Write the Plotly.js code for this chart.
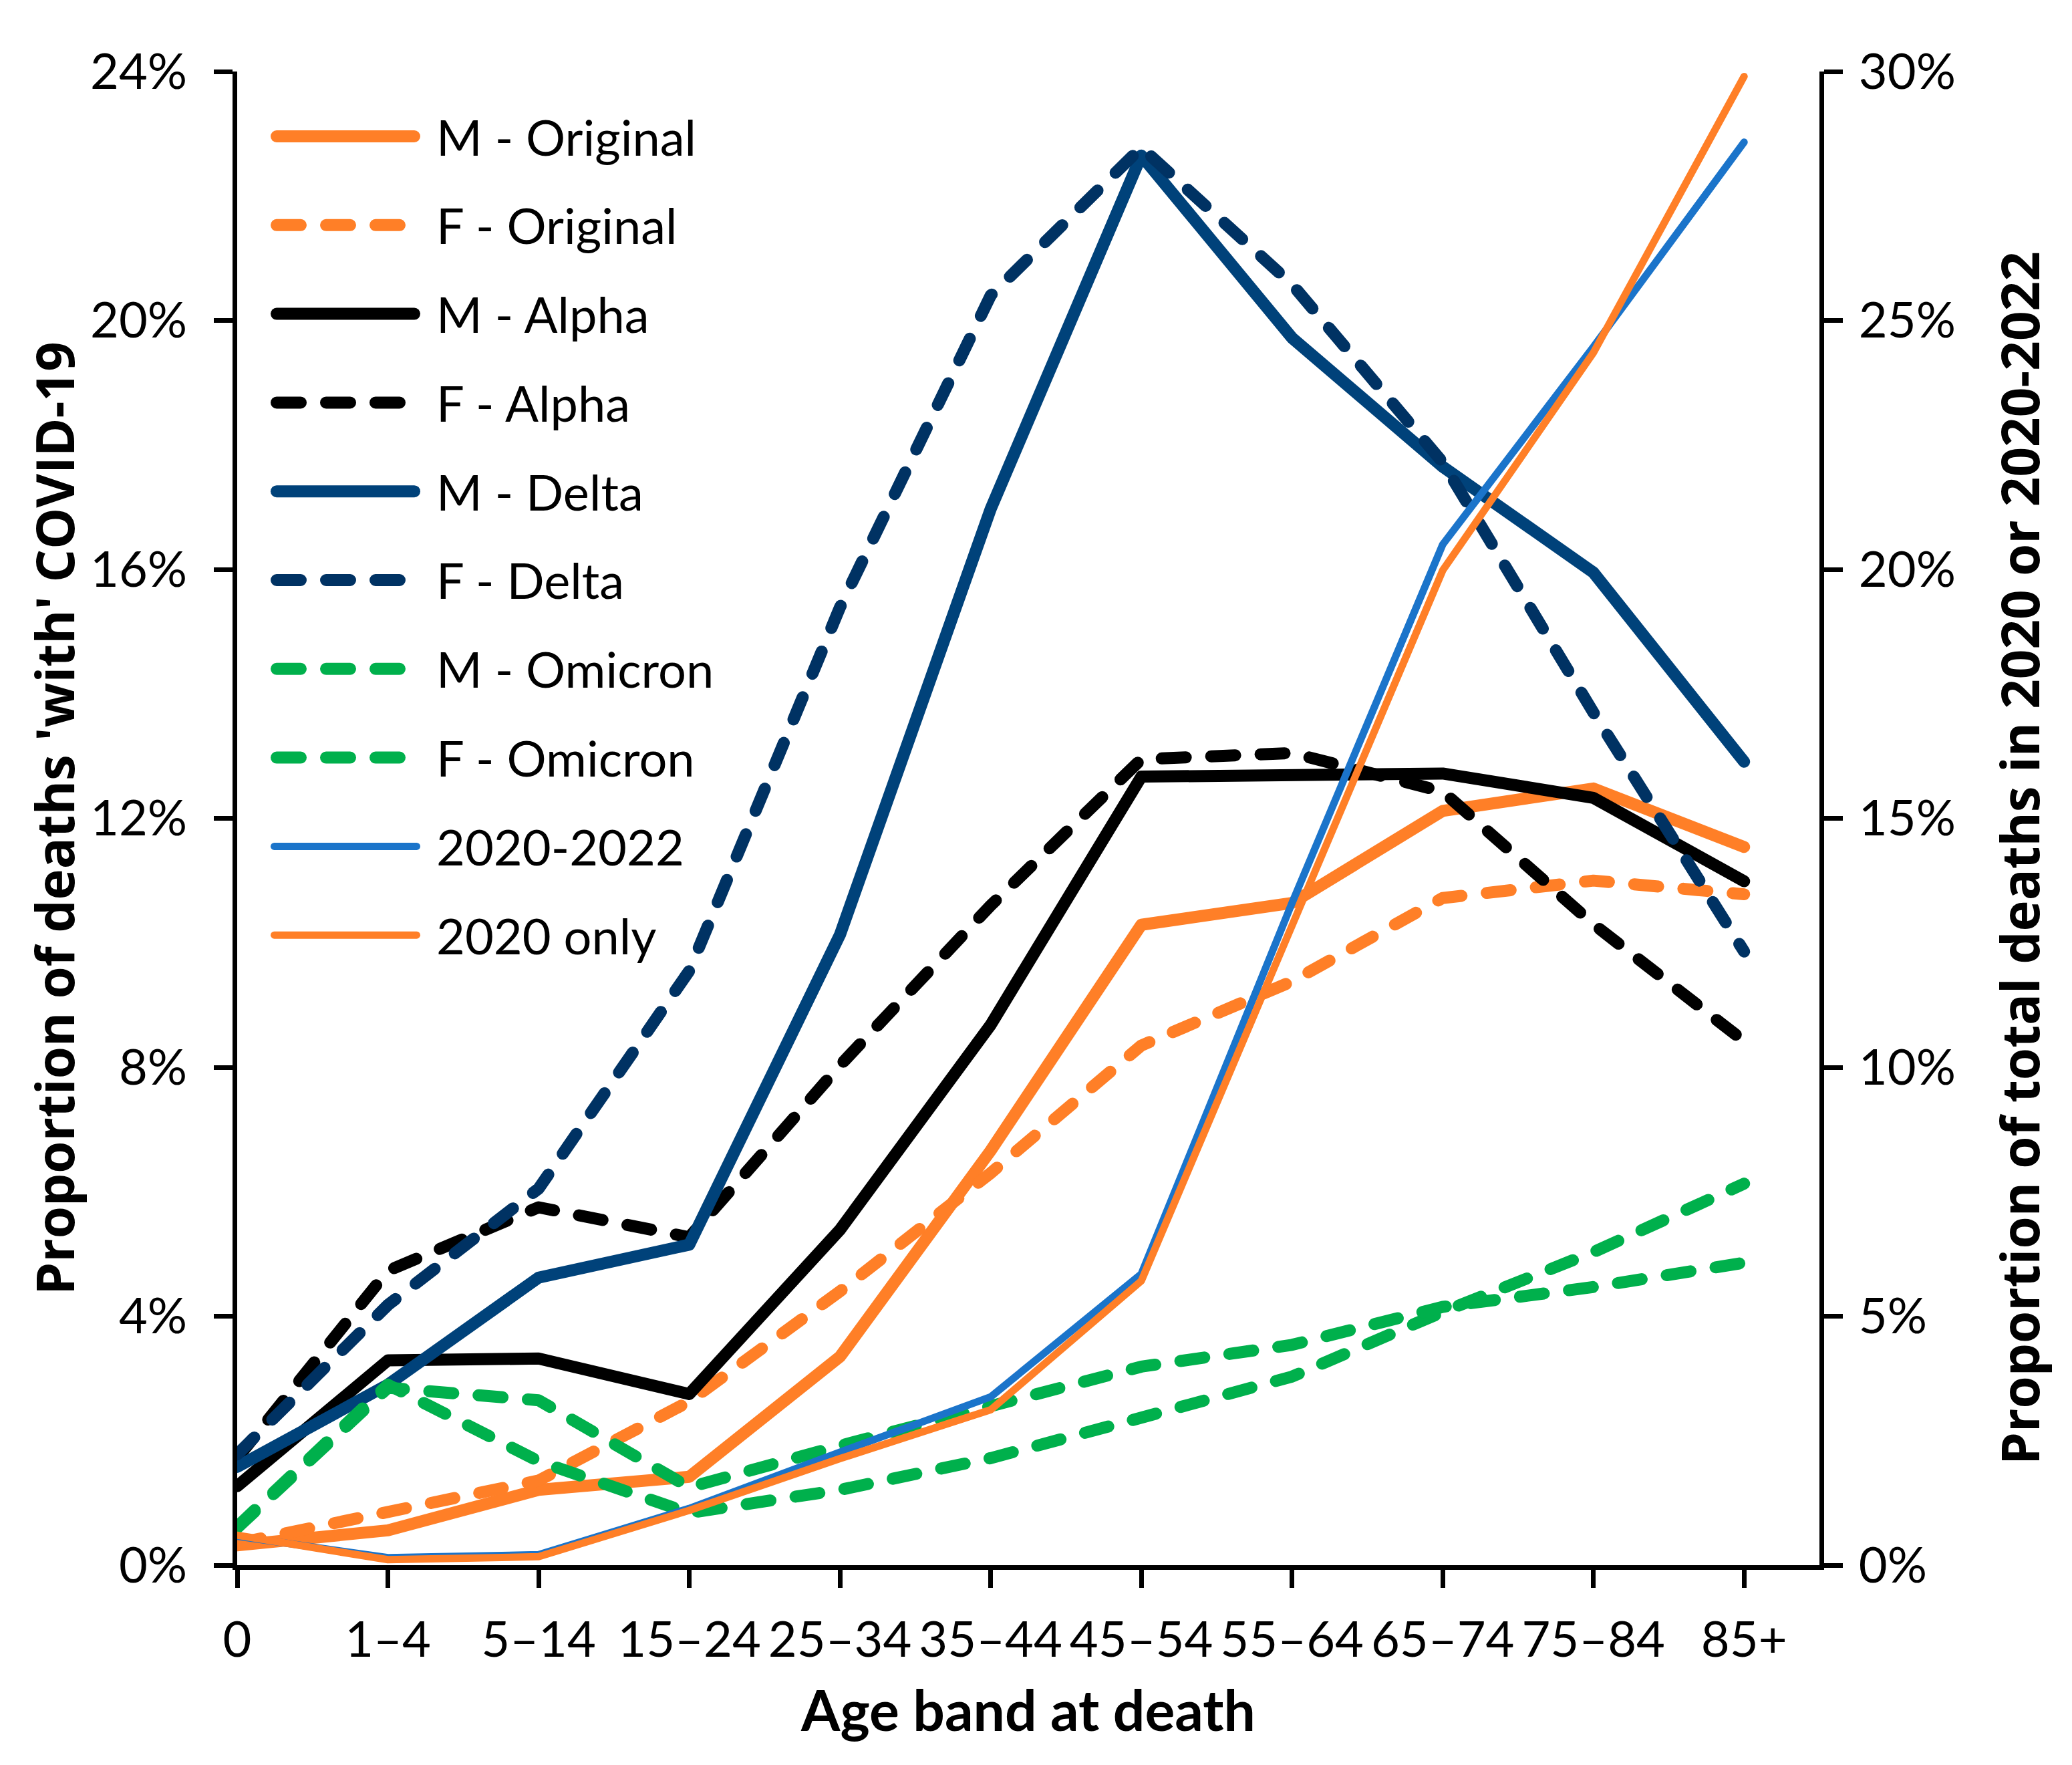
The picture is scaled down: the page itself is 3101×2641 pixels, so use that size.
<!DOCTYPE html>
<html>
<head>
<meta charset="utf-8">
<script src="https://cdn.plot.ly/plotly-3.0.1.min.js"></script>
<style>
html,body{margin:0;padding:0;background:#ffffff;}
.scatterlayer .js-line, .shapelayer path{stroke-linecap:round;stroke-linejoin:round;}
</style>
</head>
<body>
<div id="chart" style="width:3101px;height:2641px;"></div>
<script>
// ---- Data (percent values) ----
const categories = ['0', '1–4', '5–14', '15–24', '25–34', '35–44', '45–54', '55–64', '65–74', '75–84', '85+'];

// Left axis: proportion of deaths 'with' COVID-19 (%)
const mOriginal = [0.32, 0.56, 1.21, 1.42, 3.35, 6.66, 10.29, 10.64, 12.12, 12.48, 11.54];
const fOriginal = [0.35, 0.84, 1.36, 2.63, 4.40, 6.30, 8.35, 9.38, 10.72, 11.00, 10.78];
const mAlpha    = [1.27, 3.29, 3.32, 2.75, 5.39, 8.68, 12.67, 12.70, 12.72, 12.33, 10.99];
const fAlpha    = [1.72, 4.73, 5.75, 5.27, 8.03, 10.60, 12.95, 13.05, 12.43, 10.30, 8.42];
const mDelta    = [1.58, 2.90, 4.62, 5.15, 10.13, 16.97, 22.65, 19.72, 17.65, 15.95, 12.91];
const fDelta    = [1.78, 4.18, 6.05, 9.55, 15.39, 20.40, 22.78, 20.58, 17.72, 13.70, 9.86];
const mOmicron  = [0.62, 2.90, 1.67, 0.84, 1.21, 1.72, 2.37, 3.03, 4.07, 5.03, 6.13];
const fOmicron  = [0.60, 2.85, 2.65, 1.25, 1.92, 2.56, 3.19, 3.54, 4.15, 4.47, 4.86];

// Right axis: proportion of total deaths (%)
const total2020to2022 = [0.58, 0.15, 0.21, 1.14, 2.27, 3.38, 5.85, 13.30, 20.50, 24.47, 28.58];
const total2020only   = [0.60, 0.11, 0.17, 1.10, 2.14, 3.12, 5.71, 12.85, 19.98, 24.35, 29.90];

const leftTicks  = [0, 4, 8, 12, 16, 20, 24];
const rightTicks = [0, 5, 10, 15, 20, 25, 30];

const seriesNames = ['M - Original', 'F - Original', 'M - Alpha', 'F - Alpha', 'M - Delta',
                     'F - Delta', 'M - Omicron', 'F - Omicron', '2020-2022', '2020 only'];

// ---- Styles ----
const ORANGE = '#FF7F27', BLACK = '#000000', NAVY = '#00427A', NAVY_D = '#003263',
      GREEN = '#00B04C', BLUE = '#1B74CA';
const THICK = 18, THIN = 11, DASH = '36px,38px';
const styles = [
  {color: ORANGE, width: THICK, dash: 'solid', axis: 'y'},
  {color: ORANGE, width: THICK, dash: DASH, axis: 'y'},
  {color: BLACK,  width: THICK, dash: 'solid', axis: 'y'},
  {color: BLACK,  width: THICK, dash: DASH, axis: 'y'},
  {color: NAVY,   width: THICK, dash: 'solid', axis: 'y'},
  {color: NAVY_D, width: THICK, dash: DASH, axis: 'y'},
  {color: GREEN,  width: THICK, dash: DASH, axis: 'y'},
  {color: GREEN,  width: THICK, dash: DASH, axis: 'y'},
  {color: BLUE,   width: THIN,  dash: 'solid', axis: 'y2'},
  {color: ORANGE, width: THIN,  dash: 'solid', axis: 'y2'}
];
const seriesValues = [mOriginal, fOriginal, mAlpha, fAlpha, mDelta, fDelta, mOmicron, fOmicron,
                      total2020to2022, total2020only];

const traces = seriesValues.map((vals, i) => ({
  type: 'scatter', mode: 'lines', name: seriesNames[i],
  x: categories, y: vals, yaxis: styles[i].axis,
  line: {color: styles[i].color, width: styles[i].width, dash: styles[i].dash},
  showlegend: false, hoverinfo: 'skip', cliponaxis: false
}));

// ---- Geometry (pixels) ----
const W = 3101, H = 2641;
const PL = 355, PR = 2723, PT = 107, PB = 2342;
const px2x = px => (px - PL) / (PR - PL);
const px2y = py => (PB - py) / (PB - PT);

const TICKFONT = {family: 'Lato, sans-serif', size: 74, color: '#000'};
const TITLEFONT = {family: '"Open Sans", sans-serif', size: 78, color: '#000', weight: 700};

// ---- Manual legend (long line samples like the original) ----
const shapes = [], annotations = [];
const rowY0 = 204, rowStep = 132.8;
seriesNames.forEach((name, i) => {
  const st = styles[i];
  const y = px2y(rowY0 + i * rowStep);
  const cap = st.width / 2;
  const x0 = 405 + cap;
  const x1 = (st.dash === 'solid' ? 629 : 609) - cap;
  shapes.push({type: 'line', xref: 'paper', yref: 'paper', x0: px2x(x0), x1: px2x(x1), y0: y, y1: y,
               line: {color: st.color, width: st.width, dash: st.dash}});
  annotations.push({xref: 'paper', yref: 'paper', x: px2x(651), y: y, xanchor: 'left', yanchor: 'middle',
                    text: name, showarrow: false, font: TICKFONT});
});

// Right axis title (placed slightly below the axis centre, as in the original)
annotations.push({xref: 'paper', yref: 'paper', x: px2x(3022), y: px2y(1284),
                  xanchor: 'center', yanchor: 'middle', textangle: -90, showarrow: false,
                  text: 'Proportion of total deaths in 2020 or 2020-2022', font: TITLEFONT});

const layout = {
  width: W, height: H,
  margin: {l: PL, r: W - PR, t: PT, b: H - PB, pad: 0},
  paper_bgcolor: '#fff', plot_bgcolor: '#fff',
  showlegend: false,
  xaxis: {
    type: 'category', range: [0, 10.5],
    showline: true, linecolor: '#000', linewidth: 7,
    ticks: 'outside', ticklen: 27, tickwidth: 7, tickcolor: '#000',
    showgrid: false, zeroline: false,
    tickfont: TICKFONT, ticklabelstandoff: 14,
    title: {text: 'Age band at death', font: {family: 'Lato, sans-serif', size: 84, color: '#000', weight: 700}, standoff: 40}
  },
  yaxis: {
    range: [0, 24], tickvals: leftTicks, ticktext: leftTicks.map(v => v + '%'),
    showline: true, linecolor: '#000', linewidth: 7,
    ticks: 'outside', ticklen: 28, tickwidth: 7, tickcolor: '#000',
    showgrid: false, zeroline: false,
    tickfont: TICKFONT, ticklabelstandoff: 25,
    title: {text: "Proportion of deaths 'with' COVID-19", font: TITLEFONT, standoff: 0}
  },
  yaxis2: {
    overlaying: 'y', side: 'right',
    range: [0, 30], tickvals: rightTicks, ticktext: rightTicks.map(v => v + '%'),
    showline: true, linecolor: '#000', linewidth: 7,
    ticks: 'outside', ticklen: 28, tickwidth: 7, tickcolor: '#000',
    showgrid: false, zeroline: false,
    tickfont: TICKFONT, ticklabelstandoff: 9
  },
  shapes: shapes,
  annotations: annotations
};

Plotly.newPlot('chart', traces, layout, {staticPlot: true, displayModeBar: false});
</script>
</body>
</html>
